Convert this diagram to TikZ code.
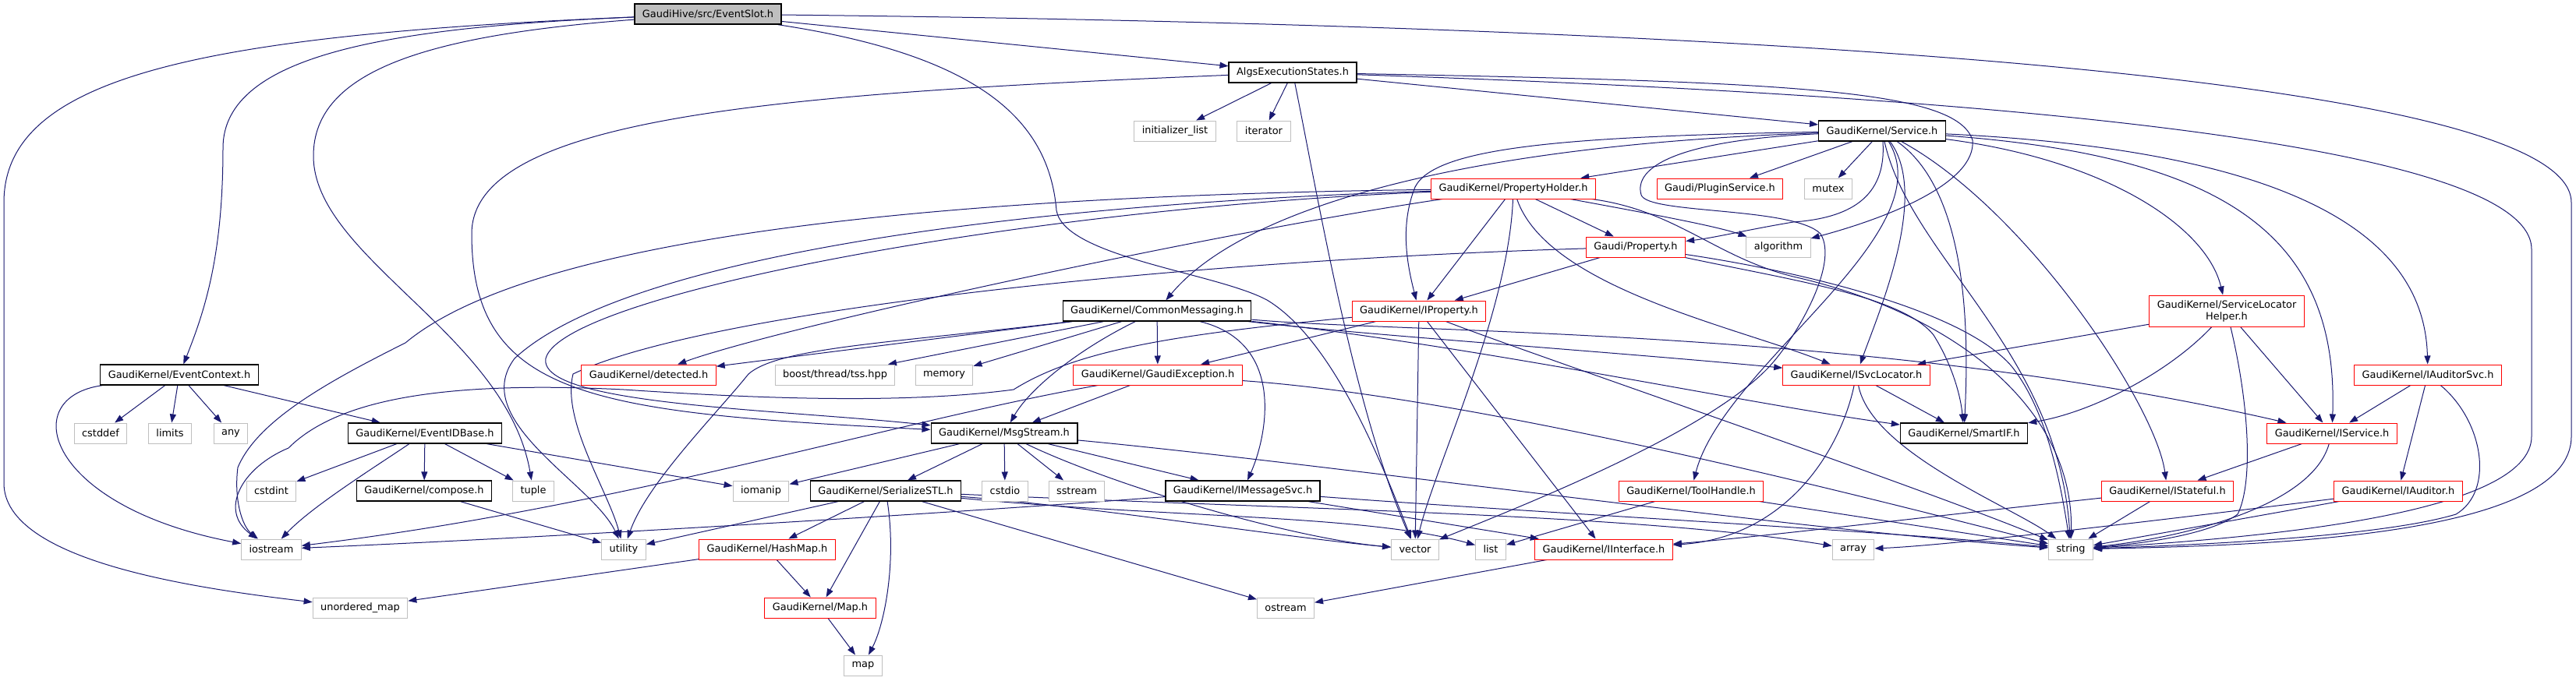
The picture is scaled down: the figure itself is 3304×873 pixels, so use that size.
\documentclass[tikz,border=0pt]{standalone}
\usepackage{fontspec}
\setmainfont{DejaVu Sans}
\usetikzlibrary{arrows.meta}
\pgfdeclarelayer{back}
\pgfdeclarelayer{edges}
\pgfsetlayers{back,edges,main}
\definecolor{edgeblue}{HTML}{191970}
\definecolor{boxgray}{HTML}{BFBFBF}
\definecolor{boxred}{HTML}{FF0000}
\begin{document}
\begin{tikzpicture}[x=1pt,y=-1pt,
  boxbase/.style={rectangle, minimum height=26pt, inner xsep=10pt, inner ysep=2pt, line width=1pt, fill=white, text=black, font=\fontsize{12.9}{15}\selectfont},
  nb/.style={boxbase, draw=black, line width=1.3pt},
  rb/.style={boxbase, draw=boxred},
  gb/.style={boxbase, draw=boxgray},
  tb/.style={boxbase, draw=black, line width=1.3pt, fill=boxgray},
  ed/.style={draw=edgeblue, line width=1pt, -{Triangle[length=11pt,width=8pt]}}]
\begin{pgfonlayer}{back}
\fill[white] (0,0) rectangle (3304,873);
\end{pgfonlayer}
\useasboundingbox (0,0) rectangle (3304,873);

\node[tb] (es) at (908,18) {GaudiHive/src/EventSlot.h};
\node[nb] (ae) at (1658,93) {AlgsExecutionStates.h};
\node[gb] (il) at (1507,168) {initializer\_list};
\node[gb] (it) at (1621,168) {iterator};
\node[nb] (sv) at (2414,168) {GaudiKernel/Service.h};
\node[rb] (ph) at (1941,242) {GaudiKernel/PropertyHolder.h};
\node[rb] (ps) at (2206,242) {Gaudi/PluginService.h};
\node[gb] (mx) at (2345,242) {mutex};
\node[rb] (pr) at (2098,317) {Gaudi/Property.h};
\node[gb] (al) at (2281,317) {algorithm};
\node[nb] (cm) at (1484,399) {GaudiKernel/CommonMessaging.h};
\node[rb] (ip) at (1820,399) {GaudiKernel/IProperty.h};
\node[rb, align=center, minimum height=40pt] (sl) at (2856,399) {GaudiKernel/ServiceLocator\\Helper.h};
\node[nb] (ec) at (230,481) {GaudiKernel/EventContext.h};
\node[rb] (dt) at (832,481) {GaudiKernel/detected.h};
\node[gb] (ts) at (1071,481) {boost/thread/tss.hpp};
\node[gb] (me) at (1211,481) {memory};
\node[rb] (ge) at (1485,481) {GaudiKernel/GaudiException.h};
\node[rb] (isl) at (2381,481) {GaudiKernel/ISvcLocator.h};
\node[rb] (ias) at (3114,481) {GaudiKernel/IAuditorSvc.h};
\node[gb] (cd) at (129,556) {cstddef};
\node[gb] (lm) at (218,556) {limits};
\node[gb] (an) at (296,556) {any};
\node[nb] (eid) at (545,556) {GaudiKernel/EventIDBase.h};
\node[nb] (ms) at (1288,556) {GaudiKernel/MsgStream.h};
\node[nb] (si) at (2519,556) {GaudiKernel/SmartIF.h};
\node[rb] (is) at (2991,556) {GaudiKernel/IService.h};
\node[gb] (ci) at (348,630) {cstdint};
\node[nb] (co) at (544,630) {GaudiKernel/compose.h};
\node[gb] (tu) at (684,630) {tuple};
\node[gb] (io) at (976,630) {iomanip};
\node[nb] (ss) at (1136,630) {GaudiKernel/SerializeSTL.h};
\node[gb] (cs) at (1289,630) {cstdio};
\node[gb] (sst) at (1381,630) {sstream};
\node[nb] (ims) at (1594,630) {GaudiKernel/IMessageSvc.h};
\node[rb] (th) at (2169,630) {GaudiKernel/ToolHandle.h};
\node[rb] (ist) at (2780,630) {GaudiKernel/IStateful.h};
\node[rb] (ia) at (3076,630) {GaudiKernel/IAuditor.h};
\node[gb] (ios) at (348,705) {iostream};
\node[gb] (ut) at (800,705) {utility};
\node[rb] (hm) at (984,705) {GaudiKernel/HashMap.h};
\node[gb] (ve) at (1815,705) {vector};
\node[gb] (li) at (1912,705) {list};
\node[rb] (ii) at (2057,705) {GaudiKernel/IInterface.h};
\node[gb] (ar) at (2377,705) {array};
\node[gb] (st) at (2656,705) {string};
\node[gb] (um) at (462,780) {unordered\_map};
\node[rb] (mp) at (1052,780) {GaudiKernel/Map.h};
\node[gb] (os) at (1649,780) {ostream};
\node[gb] (ma) at (1107,854) {map};

\begin{pgfonlayer}{edges}
% EventSlot
\draw[ed] (es) -- (ae);
\draw[ed] (es) .. controls (500,35) and (286,70) .. (286,190) .. controls (286,330) and (262,400) .. (ec);
\draw[ed] (es) .. controls (250,45) and (5,100) .. (5,260) -- (5,620) .. controls (5,720) and (250,755) .. (um);
\draw[ed] (es) .. controls (550,45) and (402,90) .. (402,200) .. controls (402,330) and (650,430) .. (tu);
\draw[ed] (es) .. controls (1250,70) and (1345,150) .. (1355,270) .. controls (1365,330) and (1560,350) .. (1625,385) .. controls (1700,430) and (1760,560) .. (ve);
\draw[ed] (es) .. controls (2000,30) and (3298,80) .. (3298,260) -- (3298,560) .. controls (3298,690) and (2900,700) .. (st);
% AlgsExecutionStates
\draw[ed] (ae) -- (il);
\draw[ed] (ae) -- (it);
\draw[ed] (ae) -- (sv);
\draw[ed] (ae) .. controls (2300,105) and (2510,115) .. (2530,180) .. controls (2535,235) and (2420,280) .. (al);
\draw[ed] (ae) .. controls (2400,118) and (3247,170) .. (3247,320) -- (3247,560) .. controls (3247,660) and (2900,690) .. (st);
\draw[ed] (ae) .. controls (1690,250) and (1735,520) .. (ve);
\draw[ed] (ae) .. controls (1000,120) and (605,150) .. (605,300) .. controls (605,510) and (760,530) .. (ms);
% Service
\draw[ed] (sv) -- (ph);
\draw[ed] (sv) -- (ps);
\draw[ed] (sv) -- (mx);
\draw[ed] (sv) .. controls (2420,255) and (2370,280) .. (2300,285) .. controls (2240,295) and (2200,305) .. (pr);
\draw[ed] (sv) .. controls (1900,185) and (1600,260) .. (cm);
\draw[ed] (sv) .. controls (2000,175) and (1840,190) .. (1815,240) .. controls (1795,290) and (1805,340) .. (ip);
\draw[ed] (sv) .. controls (2700,205) and (2830,290) .. (sl);
\draw[ed] (sv) .. controls (2850,200) and (3000,300) .. (is);
\draw[ed] (sv) .. controls (2980,195) and (3110,320) .. (ias);
\draw[ed] (sv) .. controls (2475,250) and (2410,400) .. (isl);
\draw[ed] (sv) .. controls (2530,250) and (2524,450) .. (si);
\draw[ed] (sv) .. controls (2600,270) and (2765,520) .. (ist);
\draw[ed] (sv) .. controls (2495,300) and (2210,470) .. (th);
\draw[ed] (sv) .. controls (2150,180) and (2095,215) .. (2105,250) .. controls (2112,275) and (2300,265) .. (2335,300) .. controls (2360,340) and (2300,440) .. (2265,475) .. controls (2180,560) and (1950,650) .. (ve);
\draw[ed] (sv) .. controls (2450,330) and (2640,450) .. (st);
% PropertyHolder
\draw[ed] (ph) -- (pr);
\draw[ed] (ph) .. controls (2120,275) and (2200,290) .. (al);
\draw[ed] (ph) -- (ip);
\draw[ed] (ph) .. controls (1985,370) and (2230,420) .. (isl);
\draw[ed] (ph) .. controls (1550,300) and (1000,420) .. (dt);
\draw[ed] (ph) .. controls (1300,250) and (700,290) .. (520,440) .. controls (420,490) and (330,540) .. (305,600) .. controls (300,640) and (310,675) .. (ios);
\draw[ed] (ph) .. controls (1300,262) and (800,330) .. (660,460) .. controls (600,540) and (760,620) .. (ut);
\draw[ed] (ph) .. controls (1300,268) and (720,380) .. (700,460) .. controls (690,520) and (1000,525) .. (ms);
\draw[ed] (ph) .. controls (1935,400) and (1840,600) .. (ve);
\draw[ed] (ph) .. controls (2150,270) and (2200,330) .. (2300,355) .. controls (2500,400) and (2660,520) .. (st);
% Property
\draw[ed] (pr) -- (ip);
\draw[ed] (pr) .. controls (2300,360) and (2440,380) .. (2480,430) .. controls (2505,470) and (2515,510) .. (si);
\draw[ed] (pr) .. controls (2320,350) and (2520,400) .. (2580,470) .. controls (2620,520) and (2640,600) .. (st);
\draw[ed] (pr) .. controls (1500,335) and (900,400) .. (735,480) .. controls (720,540) and (780,630) .. (ut);
% CommonMessaging
\draw[ed] (cm) -- (dt);
\draw[ed] (cm) -- (ts);
\draw[ed] (cm) -- (me);
\draw[ed] (cm) -- (ge);
\draw[ed] (cm) .. controls (1380,450) and (1320,500) .. (ms);
\draw[ed] (cm) .. controls (1650,440) and (1625,560) .. (ims);
\draw[ed] (cm) .. controls (1750,430) and (2050,450) .. (isl);
\draw[ed] (cm) .. controls (1900,445) and (2250,520) .. (si);
\draw[ed] (cm) .. controls (1800,428) and (2400,420) .. (is);
\draw[ed] (cm) .. controls (1150,440) and (1000,445) .. (960,480) .. controls (920,530) and (830,620) .. (ut);
% GaudiException
\draw[ed] (ge) -- (ms);
\draw[ed] (ge) .. controls (1150,540) and (800,650) .. (ios);
\draw[ed] (ge) .. controls (1900,510) and (2400,640) .. (st);
% IProperty
\draw[ed] (ip) -- (ge);
\draw[ed] (ip) .. controls (1500,430) and (1380,450) .. (1300,500) .. controls (1150,520) and (950,510) .. (800,500) .. controls (560,488) and (430,515) .. (370,575) .. controls (310,600) and (280,655) .. (ios);
\draw[ed] (ip) -- (ve);
\draw[ed] (ip) -- (ii);
\draw[ed] (ip) .. controls (1950,450) and (2450,620) .. (st);
% ISvcLocator
\draw[ed] (isl) -- (si);
\draw[ed] (isl) .. controls (2360,580) and (2290,690) .. (ii);
\draw[ed] (isl) .. controls (2400,580) and (2580,650) .. (st);
% ServiceLocatorHelper
\draw[ed] (sl) -- (isl);
\draw[ed] (sl) .. controls (2780,480) and (2680,530) .. (si);
\draw[ed] (sl) -- (is);
\draw[ed] (sl) .. controls (2885,520) and (2890,620) .. (2870,660) .. controls (2830,690) and (2720,700) .. (st);
% IAuditorSvc
\draw[ed] (ias) -- (is);
\draw[ed] (ias) -- (ia);
\draw[ed] (ias) .. controls (3185,540) and (3200,630) .. (3150,660) .. controls (3050,690) and (2800,700) .. (st);
% IService
\draw[ed] (is) -- (ist);
\draw[ed] (is) .. controls (2965,650) and (2800,690) .. (st);
% IStateful
\draw[ed] (ist) .. controls (2500,660) and (2250,690) .. (ii);
\draw[ed] (ist) -- (st);
% IAuditor
\draw[ed] (ia) -- (st);
\draw[ed] (ia) .. controls (2750,670) and (2500,700) .. (ar);
% ToolHandle
\draw[ed] (th) -- (li);
\draw[ed] (th) -- (st);
% MsgStream
\draw[ed] (ms) -- (io);
\draw[ed] (ms) -- (ss);
\draw[ed] (ms) -- (cs);
\draw[ed] (ms) -- (sst);
\draw[ed] (ms) -- (ims);
\draw[ed] (ms) .. controls (1420,620) and (1650,690) .. (ve);
\draw[ed] (ms) .. controls (1700,595) and (2300,680) .. (st);
% SerializeSTL
\draw[ed] (ss) -- (ut);
\draw[ed] (ss) -- (hm);
\draw[ed] (ss) -- (mp);
\draw[ed] (ss) .. controls (1150,720) and (1135,800) .. (ma);
\draw[ed] (ss) -- (os);
\draw[ed] (ss) .. controls (1400,650) and (1650,690) .. (ve);
\draw[ed] (ss) .. controls (1500,665) and (1750,660) .. (li);
\draw[ed] (ss) .. controls (1700,655) and (2100,660) .. (ar);
% IMessageSvc
\draw[ed] (ims) .. controls (1200,660) and (700,690) .. (ios);
\draw[ed] (ims) -- (ii);
\draw[ed] (ims) .. controls (2000,660) and (2400,680) .. (st);
% small ones
\draw[ed] (hm) -- (mp);
\draw[ed] (hm) -- (um);
\draw[ed] (mp) -- (ma);
\draw[ed] (co) -- (ut);
\draw[ed] (eid) -- (ci);
\draw[ed] (eid) .. controls (480,600) and (400,650) .. (ios);
\draw[ed] (eid) -- (co);
\draw[ed] (eid) -- (tu);
\draw[ed] (eid) -- (io);
\draw[ed] (ec) -- (cd);
\draw[ed] (ec) -- (lm);
\draw[ed] (ec) -- (an);
\draw[ed] (ec) -- (eid);
\draw[ed] (ec) .. controls (20,510) and (60,650) .. (ios);
\draw[ed] (ii) -- (os);
\end{pgfonlayer}
\end{tikzpicture}
\end{document}
